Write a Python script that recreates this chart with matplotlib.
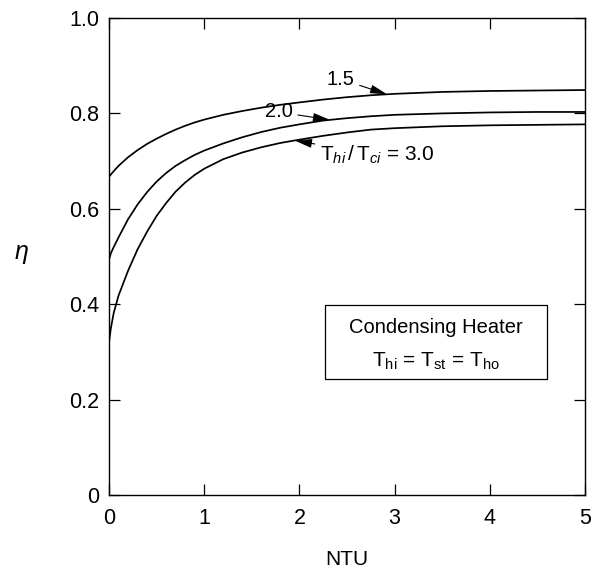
import numpy as np
import matplotlib
matplotlib.use("Agg")
import matplotlib.pyplot as plt
from matplotlib.patches import Rectangle

plt.rcParams['font.family'] = ['Liberation Sans', 'DejaVu Sans']
plt.rcParams['mathtext.fontset'] = 'custom'
plt.rcParams['mathtext.rm'] = 'Liberation Sans'
plt.rcParams['mathtext.it'] = 'Liberation Sans:italic'

# efficiency vs NTU for three inlet temperature ratios
ntu = [0, 0.02, 0.05, 0.1, 0.2, 0.3, 0.4, 0.5, 0.6, 0.7, 0.8, 0.9, 1.0,
       1.2, 1.4, 1.6, 1.8, 2.0, 2.25, 2.5, 2.75, 3.0, 3.5, 4.0, 4.5, 5.0]
eta_15 = [0.667, 0.672, 0.679, 0.690, 0.708, 0.723, 0.736, 0.747, 0.757, 0.766,
          0.774, 0.781, 0.787, 0.797, 0.805, 0.812, 0.818, 0.823, 0.829, 0.834,
          0.838, 0.841, 0.845, 0.847, 0.848, 0.849]
eta_20 = [0.493, 0.507, 0.520, 0.540, 0.578, 0.609, 0.635, 0.657, 0.675, 0.690,
          0.702, 0.713, 0.722, 0.737, 0.750, 0.761, 0.770, 0.777, 0.785, 0.790,
          0.794, 0.797, 0.800, 0.802, 0.803, 0.803]
eta_30 = [0.320, 0.350, 0.382, 0.418, 0.470, 0.515, 0.552, 0.585, 0.612, 0.636,
          0.655, 0.671, 0.684, 0.704, 0.718, 0.729, 0.738, 0.745, 0.753, 0.760,
          0.766, 0.769, 0.773, 0.775, 0.776, 0.777]

xticks = [0, 1, 2, 3, 4, 5]
yticks = [0, 0.2, 0.4, 0.6, 0.8, 1.0]
ytick_labels = ['0', '0.2', '0.4', '0.6', '0.8', '1.0']

fig = plt.figure(figsize=(5.93, 5.73), dpi=100)
ax = fig.add_axes([0.1838, 0.1361, 0.8027, 0.8325])

for eta in (eta_15, eta_20, eta_30):
    ax.plot(ntu, eta, color='k', lw=1.25, solid_joinstyle='round')

ax.set_xlim(0, 5)
ax.set_ylim(0, 1.0)
ax.set_xticks(xticks)
ax.set_xticklabels([str(t) for t in xticks])
ax.set_yticks(yticks)
ax.set_yticklabels(ytick_labels)
ax.tick_params(direction='in', length=8, width=0.9, labelsize=15.5,
               top=True, right=True)
ax.tick_params(axis='x', pad=9)
ax.tick_params(axis='y', pad=7)
for s in ax.spines.values():
    s.set_linewidth(1.0)

ax.set_xlabel('NTU', fontsize=15, va='center')
ax.xaxis.set_label_coords(0.5, -0.135)
ax.set_ylabel(r'$\eta$', fontsize=18, rotation=0)
ax.yaxis.set_label_coords(-0.185, 0.48)

arrow = dict(arrowstyle='-|>,head_length=0.7,head_width=0.18', color='k',
             lw=0.8, shrinkA=2, shrinkB=0)
ax.annotate('1.5', xy=(2.92, np.interp(2.92, ntu, eta_15)), xytext=(2.43, 0.872),
            fontsize=14.5, ha='center', va='center', arrowprops=arrow)
ax.annotate('2.0', xy=(2.32, np.interp(2.32, ntu, eta_20)), xytext=(1.78, 0.803),
            fontsize=14.5, ha='center', va='center', arrowprops=arrow)
ax.annotate(r'$\mathrm{T}_{\mathit{hi}}\,/\,\mathrm{T}_{\mathit{ci}}$ = 3.0',
            xy=(1.95, np.interp(1.95, ntu, eta_30)), xytext=(2.22, 0.713),
            fontsize=15, ha='left', va='center', arrowprops=arrow)

# framed note with the operating condition
ax.add_patch(Rectangle((0.454, 0.243), 0.466, 0.155, transform=ax.transAxes,
                       fill=False, ec='k', lw=0.9))
ax.text(0.687, 0.352, 'Condensing Heater', transform=ax.transAxes,
        fontsize=14.5, ha='center', va='center')
ax.text(0.687, 0.281, r'$\mathrm{T_{hi}}$ = $\mathrm{T_{st}}$ = $\mathrm{T_{ho}}$',
        transform=ax.transAxes, fontsize=15, ha='center', va='center')

fig.savefig('out.png', dpi=100)
